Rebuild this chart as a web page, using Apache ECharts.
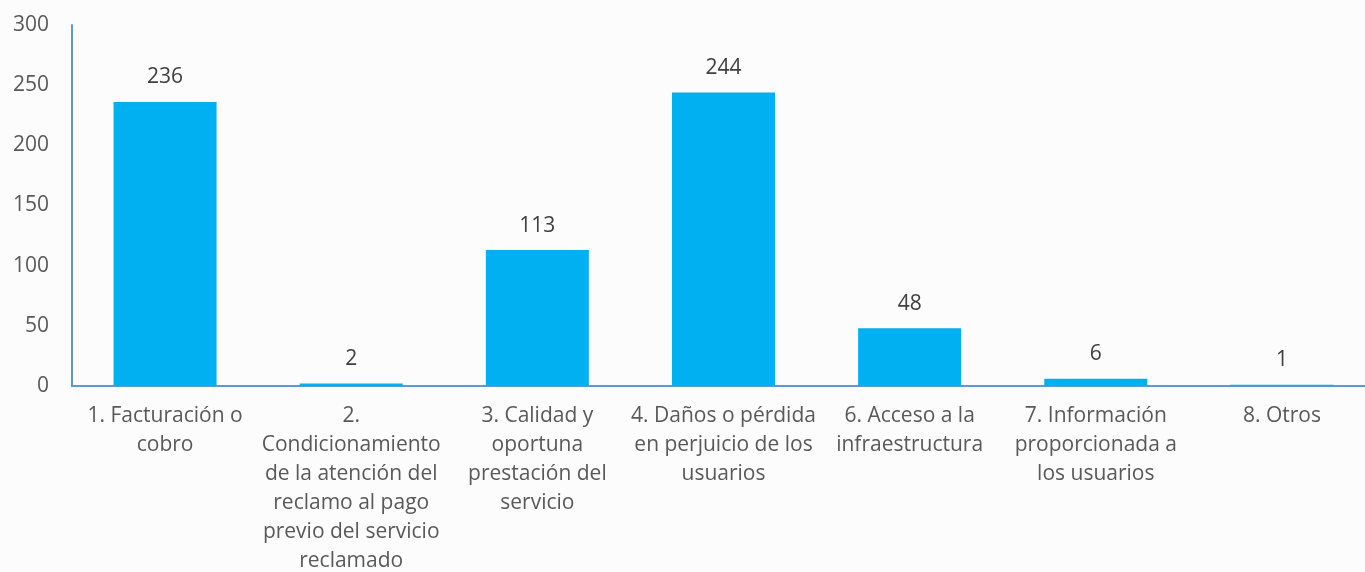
<!DOCTYPE html>
<html>
<head>
<meta charset="utf-8">
<script src="https://cdn.jsdelivr.net/npm/echarts@6/dist/echarts.min.js"></script>
<style>
  html, body { margin: 0; padding: 0; background: #fcfcfc; overflow: hidden; }
  #chart { width: 1365px; height: 572px; }
</style>
</head>
<body>
<div id="chart"></div>
<script>
// Reclamos por tipo
const categories = [
  '1. Facturación o\ncobro',
  '2.\nCondicionamiento\nde la atención del\nreclamo al pago\nprevio del servicio\nreclamado',
  '3. Calidad y\noportuna\nprestación del\nservicio',
  '4. Daños o pérdida\nen perjuicio de los\nusuarios',
  '6. Acceso a la\ninfraestructura',
  '7. Información\nproporcionada a\nlos usuarios',
  '8. Otros'
];
const values = [236, 2, 113, 244, 48, 6, 1];
const yTicks = { min: 0, max: 300, interval: 50 };

const FONT = '"Open Sans", Lato, sans-serif';
const chart = echarts.init(document.getElementById('chart'), null, { renderer: 'canvas' });
chart.setOption({
  backgroundColor: '#fcfcfc',
  animation: false,
  grid: { left: 72, top: 25, width: 1303, height: 361, outerBoundsMode: 'none', containLabel: false },
  xAxis: {
    type: 'category',
    data: categories,
    axisLine: { lineStyle: { color: '#5b9bd5', width: 2 } },
    axisTick: { show: false },
    axisLabel: {
      interval: 0,
      color: '#595959',
      fontFamily: FONT,
      fontSize: 21,
      lineHeight: 29,
      margin: 16
    }
  },
  yAxis: {
    type: 'value',
    min: yTicks.min,
    max: yTicks.max,
    interval: yTicks.interval,
    axisLine: { show: true, lineStyle: { color: '#5b9bd5', width: 2 } },
    axisTick: { show: false },
    splitLine: { show: false },
    axisLabel: {
      color: '#595959',
      fontFamily: FONT,
      fontSize: 21,
      margin: 23
    }
  },
  series: [{
    type: 'bar',
    data: values,
    barWidth: 103,
    itemStyle: { color: '#00b0f0' },
    label: {
      show: true,
      position: 'top',
      distance: 14,
      color: '#404040',
      fontFamily: FONT,
      fontSize: 21
    }
  }]
});
</script>
</body>
</html>
